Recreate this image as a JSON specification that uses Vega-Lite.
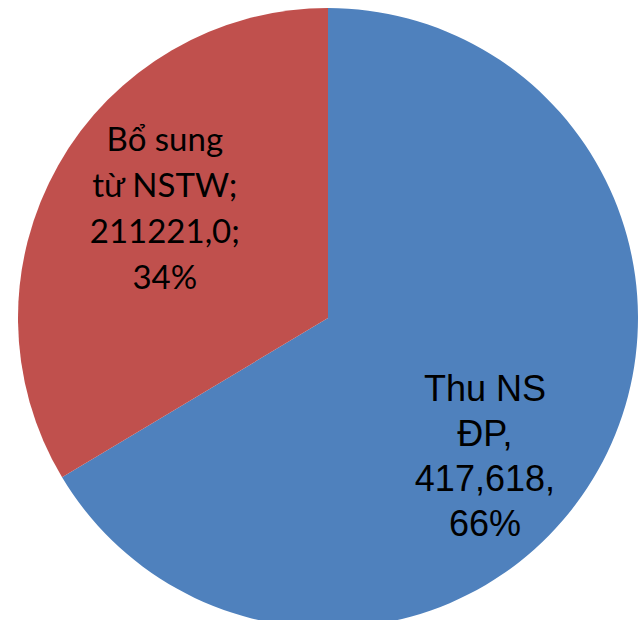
{
  "$schema": "https://vega.github.io/schema/vega-lite/v6.json",
  "autosize": "none",
  "padding": 0,
  "width": 656,
  "height": 636,
  "background": "white",
  "view": {"stroke": null},
  "data": {
    "values": [
      {"name": "Thu NS ĐP", "value": 417618, "label": "Thu NS\nĐP,\n417,618,\n66%"},
      {"name": "Bổ sung từ NSTW", "value": 211221, "label": "Bổ sung\ntừ NSTW;\n211221,0;\n34%"}
    ]
  },
  "encoding": {
    "theta": {"field": "value", "type": "quantitative", "stack": true},
    "order": {"field": "value", "type": "quantitative", "sort": "descending"}
  },
  "layer": [
    {
      "mark": {"type": "arc", "radius": 310},
      "encoding": {
        "color": {
          "field": "name",
          "type": "nominal",
          "scale": {"domain": ["Thu NS ĐP", "Bổ sung từ NSTW"], "range": ["#4F81BD", "#C0504D"]},
          "legend": null
        }
      }
    },
    {
      "mark": {"type": "text", "radius": 209, "thetaOffset": 0.206, "dy": -66, "font": "Liberation Sans", "fontSize": 36, "lineHeight": 45, "lineBreak": "\n", "align": "center", "baseline": "middle", "color": "black"},
      "encoding": {
        "text": {"condition": {"test": "datum.name === 'Thu NS ĐP'", "field": "label"}, "value": ""}
      }
    },
    {
      "mark": {"type": "text", "radius": 194, "thetaOffset": 0.056, "dy": -72, "font": "Lato", "fontSize": 33, "lineHeight": 46, "lineBreak": "\n", "align": "center", "baseline": "middle", "color": "black"},
      "encoding": {
        "text": {"condition": {"test": "datum.name === 'Bổ sung từ NSTW'", "field": "label"}, "value": ""}
      }
    }
  ]
}
